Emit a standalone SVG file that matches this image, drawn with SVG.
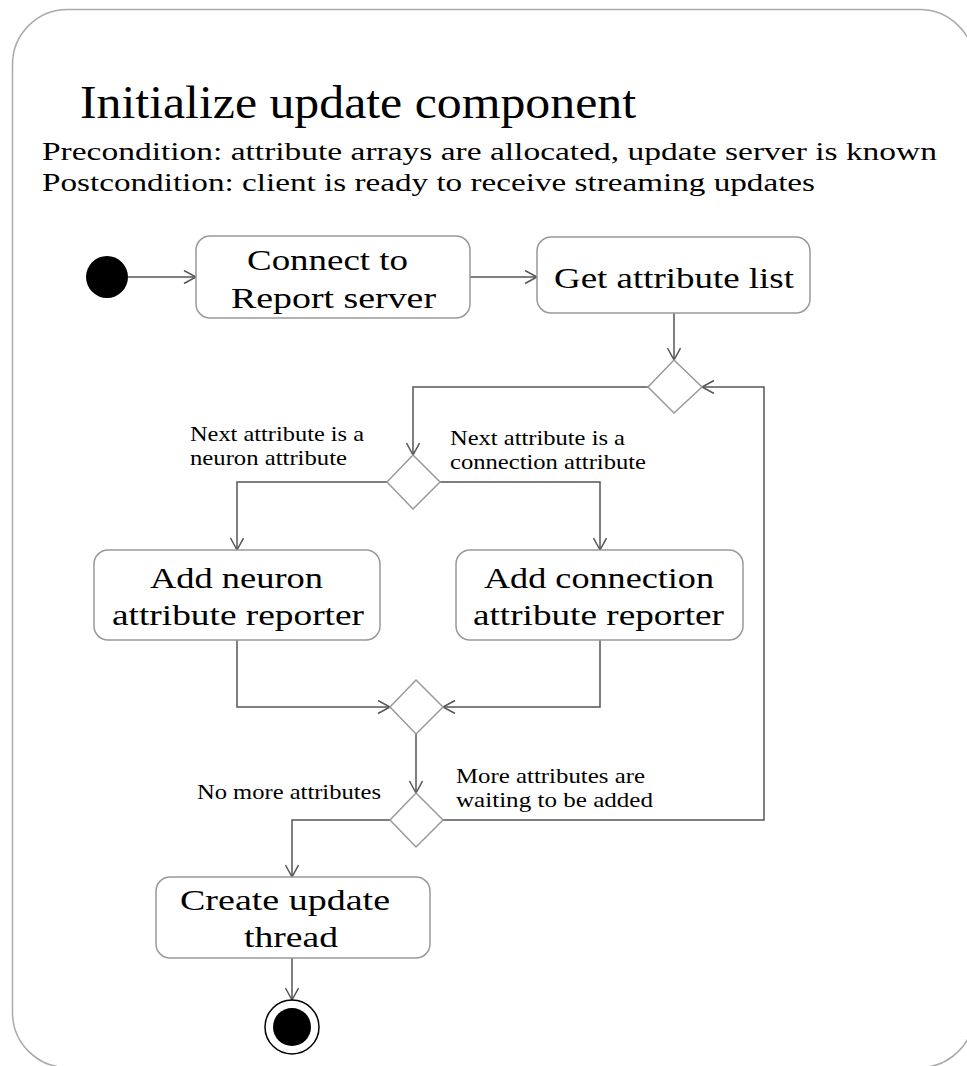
<svg xmlns="http://www.w3.org/2000/svg" width="967" height="1066" viewBox="0 0 967 1066">
<defs>
<marker id="arr" markerUnits="userSpaceOnUse" markerWidth="16" markerHeight="16" refX="13" refY="7" orient="auto">
<path d="M1,0.5 L13,7 L1,13.5" fill="none" stroke="#555" stroke-width="1.5"/>
</marker>
<style>
.frame{fill:#fff;stroke:#aaa;stroke-width:1.5}
.box{fill:#fff;stroke:#999;stroke-width:1.5}
.dia{fill:#fff;stroke:#999;stroke-width:1.5}
.con{fill:none;stroke:#555;stroke-width:1.5;marker-end:url(#arr)}
text{font-family:"Liberation Serif","Times New Roman",serif;fill:#000}
.t{font-size:30px}
.l{font-size:21px}
</style>
</defs>
<rect class="frame" x="12.5" y="9.5" width="962" height="1058" rx="55" ry="55"/>
<g id="title">
<text x="80" y="118" font-size="46" textLength="556" lengthAdjust="spacingAndGlyphs">Initialize update component</text>
<text x="42" y="160" font-size="25" textLength="895" lengthAdjust="spacingAndGlyphs">Precondition: attribute arrays are allocated, update server is known</text>
<text x="42" y="191" font-size="25" textLength="773" lengthAdjust="spacingAndGlyphs">Postcondition: client is ready to receive streaming updates</text>
</g>
<g id="connectors">
<path class="con" d="M128,277 H196"/>
<path class="con" d="M470,277 H537"/>
<path class="con" d="M674,313 V360"/>
<path class="con" d="M648,387 H413 V455"/>
<path class="con" d="M387,482 H237 V550"/>
<path class="con" d="M440,482 H600 V550"/>
<path class="con" d="M237,640 V707 H390"/>
<path class="con" d="M600,640 V707 H443"/>
<path class="con" d="M416,734 V793"/>
<path class="con" d="M390,820 H292 V877"/>
<path class="con" d="M443,820 H764 V387 H702"/>
<path class="con" d="M292,958 V1000"/>
</g>
<g id="labels">
<text class="l" x="190" y="441" textLength="174" lengthAdjust="spacingAndGlyphs">Next attribute is a</text>
<text class="l" x="190" y="465" textLength="157" lengthAdjust="spacingAndGlyphs">neuron attribute</text>
<text class="l" x="450" y="445" textLength="175" lengthAdjust="spacingAndGlyphs">Next attribute is a</text>
<text class="l" x="450" y="469" textLength="196" lengthAdjust="spacingAndGlyphs">connection attribute</text>
<text class="l" x="197" y="799" textLength="184" lengthAdjust="spacingAndGlyphs">No more attributes</text>
<text class="l" x="456" y="783" textLength="189" lengthAdjust="spacingAndGlyphs">More attributes are</text>
<text class="l" x="456" y="807" textLength="197" lengthAdjust="spacingAndGlyphs">waiting to be added</text>
</g>
<g id="start">
<circle cx="107" cy="277" r="21" fill="#000"/>
</g>
<g id="connect">
<rect class="box" x="196" y="236" width="274" height="82" rx="14"/>
<text class="t" x="247" y="270" textLength="161" lengthAdjust="spacingAndGlyphs">Connect to</text>
<text class="t" x="231" y="308" textLength="205" lengthAdjust="spacingAndGlyphs">Report server</text>
</g>
<g id="getlist">
<rect class="box" x="537" y="237" width="273" height="76" rx="14"/>
<text class="t" x="554" y="288" textLength="240" lengthAdjust="spacingAndGlyphs">Get attribute list</text>
</g>
<g id="merge1">
<polygon class="dia" points="674,360 702,387 674,413 648,387"/>
</g>
<g id="decision1">
<polygon class="dia" points="413,455 440,482 413,509 387,482"/>
</g>
<g id="neuron">
<rect class="box" x="94" y="550" width="286" height="90" rx="14"/>
<text class="t" x="150" y="588" textLength="173" lengthAdjust="spacingAndGlyphs">Add neuron</text>
<text class="t" x="112" y="625" textLength="252" lengthAdjust="spacingAndGlyphs">attribute reporter</text>
</g>
<g id="connection">
<rect class="box" x="456" y="550" width="287" height="90" rx="14"/>
<text class="t" x="484" y="588" textLength="230" lengthAdjust="spacingAndGlyphs">Add connection</text>
<text class="t" x="473" y="625" textLength="251" lengthAdjust="spacingAndGlyphs">attribute reporter</text>
</g>
<g id="merge2">
<polygon class="dia" points="416,680 443,707 416,734 390,707"/>
</g>
<g id="decision2">
<polygon class="dia" points="416,793 443,820 416,847 390,820"/>
</g>
<g id="create">
<rect class="box" x="156" y="877" width="274" height="81" rx="14"/>
<text class="t" x="180" y="910" textLength="210" lengthAdjust="spacingAndGlyphs">Create update</text>
<text class="t" x="244" y="947" textLength="94" lengthAdjust="spacingAndGlyphs">thread</text>
</g>
<g id="end">
<circle cx="292" cy="1027" r="27" fill="#fff" stroke="#000" stroke-width="1.5"/>
<circle cx="292" cy="1027" r="19" fill="#000"/>
</g>
</svg>
